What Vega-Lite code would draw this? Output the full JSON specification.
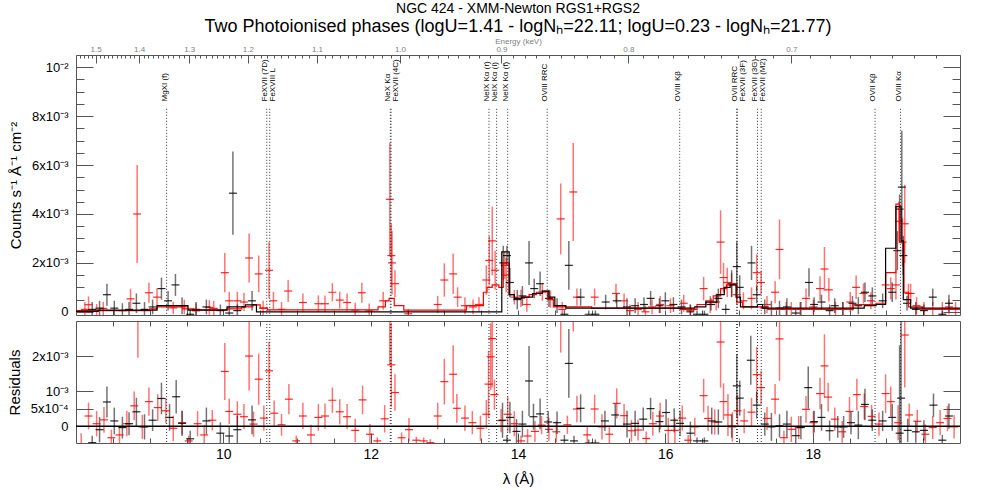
{
"$schema":"https://vega.github.io/schema/vega-lite/v6.json",
"background":"white",
"padding":{"left":6,"top":1,"right":8,"bottom":2},
"spacing":0,
"config":{
  "view":{"stroke":"#555","strokeWidth":1},
  "axis":{"grid":false,"domain":false,"labelFont":"Liberation Sans","titleFont":"Liberation Sans","labelColor":"#000","titleColor":"#000","titleFontWeight":"normal","tickColor":"#555","labelFlush":false,"labelOverlap":false},
  "text":{"font":"Liberation Sans"}
},
"datasets":{
"spec":[
{"d":"RGS2","lam":8.12,"f":0.10e-3,"e":0.30e-3},
{"d":"RGS2","lam":8.17,"f":0.29e-3,"e":0.34e-3},
{"d":"RGS2","lam":8.28,"f":0.07e-3,"e":0.25e-3},
{"d":"RGS2","lam":8.37,"f":0.14e-3,"e":0.27e-3},
{"d":"RGS2","lam":8.74,"f":0.53e-3,"e":0.41e-3},
{"d":"RGS2","lam":8.83,"f":4.00e-3,"e":2.00e-3},
{"d":"RGS2","lam":8.99,"f":0.78e-3,"e":0.41e-3},
{"d":"RGS2","lam":9.10,"f":0.60e-3,"e":0.35e-3},
{"d":"RGS2","lam":9.32,"f":0.16e-3,"e":0.25e-3},
{"d":"RGS2","lam":9.47,"f":0.20e-3,"e":0.30e-3},
{"d":"RGS2","lam":9.63,"f":0.04e-3,"e":0.30e-3},
{"d":"RGS2","lam":9.81,"f":0.18e-3,"e":0.30e-3},
{"d":"RGS2","lam":9.87,"f":0.14e-3,"e":0.30e-3},
{"d":"RGS2","lam":10.02,"f":1.60e-3,"e":0.80e-3},
{"d":"RGS2","lam":10.08,"f":0.45e-3,"e":0.37e-3},
{"d":"RGS2","lam":10.19,"f":0.45e-3,"e":0.37e-3},
{"d":"RGS2","lam":10.28,"f":0.40e-3,"e":0.37e-3},
{"d":"RGS2","lam":10.35,"f":2.20e-3,"e":1.00e-3},
{"d":"RGS2","lam":10.48,"f":1.55e-3,"e":0.75e-3},
{"d":"RGS2","lam":10.54,"f":0.15e-3,"e":0.30e-3},
{"d":"RGS2","lam":10.62,"f":1.70e-3,"e":1.15e-3},
{"d":"RGS2","lam":10.68,"f":0.45e-3,"e":0.37e-3},
{"d":"RGS2","lam":10.79,"f":0.10e-3,"e":0.30e-3},
{"d":"RGS2","lam":10.88,"f":0.85e-3,"e":0.45e-3},
{"d":"RGS2","lam":11.08,"f":0.38e-3,"e":0.37e-3},
{"d":"RGS2","lam":11.29,"f":0.33e-3,"e":0.34e-3},
{"d":"RGS2","lam":11.38,"f":0.33e-3,"e":0.34e-3},
{"d":"RGS2","lam":11.48,"f":0.80e-3,"e":0.37e-3},
{"d":"RGS2","lam":11.58,"f":0.48e-3,"e":0.34e-3},
{"d":"RGS2","lam":11.68,"f":0.38e-3,"e":0.37e-3},
{"d":"RGS2","lam":11.79,"f":0.07e-3,"e":0.30e-3},
{"d":"RGS2","lam":11.88,"f":0.78e-3,"e":0.41e-3},
{"d":"RGS2","lam":11.98,"f":0.04e-3,"e":0.30e-3},
{"d":"RGS2","lam":12.17,"f":0.45e-3,"e":0.37e-3},
{"d":"RGS2","lam":12.26,"f":4.60e-3,"e":2.30e-3},
{"d":"RGS2","lam":12.28,"f":2.30e-3,"e":1.30e-3},
{"d":"RGS2","lam":12.29,"f":2.00e-3,"e":1.30e-3},
{"d":"RGS2","lam":12.33,"f":1.15e-3,"e":0.55e-3},
{"d":"RGS2","lam":12.51,"f":-0.08e-3,"e":0.20e-3},
{"d":"RGS2","lam":12.91,"f":0.30e-3,"e":0.35e-3},
{"d":"RGS2","lam":13.00,"f":1.30e-3,"e":0.68e-3},
{"d":"RGS2","lam":13.12,"f":1.55e-3,"e":0.82e-3},
{"d":"RGS2","lam":13.18,"f":0.60e-3,"e":0.40e-3},
{"d":"RGS2","lam":13.28,"f":0.25e-3,"e":0.35e-3},
{"d":"RGS2","lam":13.39,"f":0.20e-3,"e":0.30e-3},
{"d":"RGS2","lam":13.47,"f":0.30e-3,"e":0.30e-3},
{"d":"RGS2","lam":13.57,"f":1.30e-3,"e":0.60e-3},
{"d":"RGS2","lam":13.61,"f":2.10e-3,"e":1.00e-3},
{"d":"RGS2","lam":13.65,"f":2.90e-3,"e":1.40e-3},
{"d":"RGS2","lam":13.69,"f":1.70e-3,"e":0.80e-3},
{"d":"RGS2","lam":13.82,"f":1.90e-3,"e":0.55e-3},
{"d":"RGS2","lam":13.84,"f":1.50e-3,"e":0.70e-3},
{"d":"RGS2","lam":13.95,"f":0.60e-3,"e":0.30e-3},
{"d":"RGS2","lam":14.04,"f":0.55e-3,"e":0.35e-3},
{"d":"RGS2","lam":14.12,"f":0.30e-3,"e":0.30e-3},
{"d":"RGS2","lam":14.33,"f":0.80e-3,"e":0.35e-3},
{"d":"RGS2","lam":14.44,"f":0.52e-3,"e":0.35e-3},
{"d":"RGS2","lam":14.58,"f":3.80e-3,"e":1.45e-3},
{"d":"RGS2","lam":14.60,"f":0.10e-3,"e":0.30e-3},
{"d":"RGS2","lam":14.75,"f":4.90e-3,"e":2.00e-3},
{"d":"RGS2","lam":14.80,"f":0.60e-3,"e":0.35e-3},
{"d":"RGS2","lam":15.04,"f":0.60e-3,"e":0.35e-3},
{"d":"RGS2","lam":15.33,"f":0.75e-3,"e":0.40e-3},
{"d":"RGS2","lam":15.44,"f":0.45e-3,"e":0.30e-3},
{"d":"RGS2","lam":15.52,"f":0.05e-3,"e":0.25e-3},
{"d":"RGS2","lam":15.63,"f":0.10e-3,"e":0.30e-3},
{"d":"RGS2","lam":15.73,"f":0.00e-3,"e":0.25e-3},
{"d":"RGS2","lam":15.82,"f":0.20e-3,"e":0.30e-3},
{"d":"RGS2","lam":15.93,"f":0.30e-3,"e":0.35e-3},
{"d":"RGS2","lam":16.07,"f":0.25e-3,"e":0.30e-3},
{"d":"RGS2","lam":16.25,"f":0.35e-3,"e":0.35e-3},
{"d":"RGS2","lam":16.34,"f":0.05e-3,"e":0.25e-3},
{"d":"RGS2","lam":16.52,"f":0.95e-3,"e":0.48e-3},
{"d":"RGS2","lam":16.61,"f":0.30e-3,"e":0.35e-3},
{"d":"RGS2","lam":16.69,"f":0.40e-3,"e":0.35e-3},
{"d":"RGS2","lam":16.75,"f":2.85e-3,"e":1.30e-3},
{"d":"RGS2","lam":16.79,"f":1.40e-3,"e":0.60e-3},
{"d":"RGS2","lam":16.84,"f":1.20e-3,"e":0.60e-3},
{"d":"RGS2","lam":16.90,"f":1.10e-3,"e":0.48e-3},
{"d":"RGS2","lam":16.97,"f":0.70e-3,"e":0.40e-3},
{"d":"RGS2","lam":17.06,"f":0.45e-3,"e":0.35e-3},
{"d":"RGS2","lam":17.17,"f":0.55e-3,"e":0.45e-3},
{"d":"RGS2","lam":17.24,"f":1.60e-3,"e":0.75e-3},
{"d":"RGS2","lam":17.30,"f":1.20e-3,"e":0.48e-3},
{"d":"RGS2","lam":17.38,"f":0.30e-3,"e":0.35e-3},
{"d":"RGS2","lam":17.49,"f":0.80e-3,"e":0.45e-3},
{"d":"RGS2","lam":17.55,"f":2.55e-3,"e":1.22e-3},
{"d":"RGS2","lam":17.64,"f":0.10e-3,"e":0.30e-3},
{"d":"RGS2","lam":17.71,"f":0.10e-3,"e":0.30e-3},
{"d":"RGS2","lam":17.83,"f":0.10e-3,"e":0.30e-3},
{"d":"RGS2","lam":17.91,"f":0.55e-3,"e":0.40e-3},
{"d":"RGS2","lam":18.01,"f":0.20e-3,"e":0.30e-3},
{"d":"RGS2","lam":18.10,"f":0.95e-3,"e":0.50e-3},
{"d":"RGS2","lam":18.16,"f":1.75e-3,"e":0.90e-3},
{"d":"RGS2","lam":18.22,"f":0.90e-3,"e":0.48e-3},
{"d":"RGS2","lam":18.31,"f":0.10e-3,"e":0.30e-3},
{"d":"RGS2","lam":18.41,"f":0.10e-3,"e":0.30e-3},
{"d":"RGS2","lam":18.51,"f":0.40e-3,"e":0.41e-3},
{"d":"RGS2","lam":18.59,"f":1.00e-3,"e":0.48e-3},
{"d":"RGS2","lam":18.69,"f":0.75e-3,"e":0.41e-3},
{"d":"RGS2","lam":18.79,"f":0.45e-3,"e":0.35e-3},
{"d":"RGS2","lam":18.99,"f":1.10e-3,"e":0.55e-3},
{"d":"RGS2","lam":19.06,"f":0.95e-3,"e":0.45e-3},
{"d":"RGS2","lam":19.13,"f":1.10e-3,"e":0.60e-3},
{"d":"RGS2","lam":19.17,"f":3.70e-3,"e":0.80e-3},
{"d":"RGS2","lam":19.22,"f":2.85e-3,"e":1.00e-3},
{"d":"RGS2","lam":19.25,"f":3.60e-3,"e":1.60e-3},
{"d":"RGS2","lam":19.30,"f":0.75e-3,"e":0.40e-3},
{"d":"RGS2","lam":19.33,"f":0.75e-3,"e":0.40e-3},
{"d":"RGS2","lam":19.41,"f":0.25e-3,"e":0.35e-3},
{"d":"RGS2","lam":19.51,"f":0.10e-3,"e":0.30e-3},
{"d":"RGS2","lam":19.63,"f":0.10e-3,"e":0.30e-3},
{"d":"RGS2","lam":19.76,"f":0.10e-3,"e":0.30e-3},
{"d":"RGS2","lam":19.85,"f":0.20e-3,"e":0.30e-3},
{"d":"RGS2","lam":19.94,"f":0.10e-3,"e":0.30e-3},
{"d":"RGS1","lam":8.22,"f":0.10e-3,"e":0.30e-3},
{"d":"RGS1","lam":8.32,"f":0.15e-3,"e":0.30e-3},
{"d":"RGS1","lam":8.42,"f":0.70e-3,"e":0.45e-3},
{"d":"RGS1","lam":8.52,"f":0.15e-3,"e":0.30e-3},
{"d":"RGS1","lam":8.63,"f":0.05e-3,"e":0.30e-3},
{"d":"RGS1","lam":8.72,"f":0.10e-3,"e":0.30e-3},
{"d":"RGS1","lam":8.82,"f":0.35e-3,"e":0.40e-3},
{"d":"RGS1","lam":8.93,"f":0.10e-3,"e":0.30e-3},
{"d":"RGS1","lam":9.04,"f":0.20e-3,"e":0.30e-3},
{"d":"RGS1","lam":9.16,"f":0.95e-3,"e":0.45e-3},
{"d":"RGS1","lam":9.25,"f":0.45e-3,"e":0.40e-3},
{"d":"RGS1","lam":9.35,"f":1.10e-3,"e":0.45e-3},
{"d":"RGS1","lam":9.44,"f":0.25e-3,"e":0.35e-3},
{"d":"RGS1","lam":9.55,"f":-0.10e-3,"e":0.20e-3},
{"d":"RGS1","lam":9.63,"f":0.10e-3,"e":0.30e-3},
{"d":"RGS1","lam":9.77,"f":0.20e-3,"e":0.30e-3},
{"d":"RGS1","lam":9.96,"f":0.05e-3,"e":0.25e-3},
{"d":"RGS1","lam":10.08,"f":-0.05e-3,"e":0.25e-3},
{"d":"RGS1","lam":10.13,"f":4.85e-3,"e":1.70e-3},
{"d":"RGS1","lam":10.19,"f":0.05e-3,"e":0.25e-3},
{"d":"RGS1","lam":10.39,"f":0.45e-3,"e":0.40e-3},
{"d":"RGS1","lam":13.80,"f":2.00e-3,"e":0.70e-3},
{"d":"RGS1","lam":13.85,"f":2.30e-3,"e":0.40e-3},
{"d":"RGS1","lam":13.89,"f":1.20e-3,"e":0.60e-3},
{"d":"RGS1","lam":13.99,"f":0.50e-3,"e":0.40e-3},
{"d":"RGS1","lam":14.06,"f":0.65e-3,"e":0.40e-3},
{"d":"RGS1","lam":14.15,"f":2.00e-3,"e":0.90e-3},
{"d":"RGS1","lam":14.22,"f":0.95e-3,"e":0.40e-3},
{"d":"RGS1","lam":14.30,"f":1.15e-3,"e":0.50e-3},
{"d":"RGS1","lam":14.42,"f":0.55e-3,"e":0.35e-3},
{"d":"RGS1","lam":14.53,"f":0.25e-3,"e":0.30e-3},
{"d":"RGS1","lam":14.63,"f":-0.10e-3,"e":0.20e-3},
{"d":"RGS1","lam":14.69,"f":1.90e-3,"e":1.00e-3},
{"d":"RGS1","lam":14.85,"f":0.60e-3,"e":0.35e-3},
{"d":"RGS1","lam":14.96,"f":-0.10e-3,"e":0.15e-3},
{"d":"RGS1","lam":15.05,"f":-0.10e-3,"e":0.15e-3},
{"d":"RGS1","lam":15.19,"f":0.40e-3,"e":0.30e-3},
{"d":"RGS1","lam":15.34,"f":0.45e-3,"e":0.30e-3},
{"d":"RGS1","lam":15.48,"f":0.20e-3,"e":0.35e-3},
{"d":"RGS1","lam":15.59,"f":0.25e-3,"e":0.30e-3},
{"d":"RGS1","lam":15.71,"f":0.30e-3,"e":0.30e-3},
{"d":"RGS1","lam":15.80,"f":0.55e-3,"e":0.30e-3},
{"d":"RGS1","lam":15.92,"f":0.25e-3,"e":0.30e-3},
{"d":"RGS1","lam":16.00,"f":0.45e-3,"e":0.35e-3},
{"d":"RGS1","lam":16.11,"f":0.30e-3,"e":0.30e-3},
{"d":"RGS1","lam":16.22,"f":0.20e-3,"e":0.30e-3},
{"d":"RGS1","lam":16.34,"f":0.00e-3,"e":0.30e-3},
{"d":"RGS1","lam":16.43,"f":-0.10e-3,"e":0.15e-3},
{"d":"RGS1","lam":16.53,"f":-0.10e-3,"e":0.15e-3},
{"d":"RGS1","lam":16.62,"f":0.30e-3,"e":0.25e-3},
{"d":"RGS1","lam":16.72,"f":0.55e-3,"e":0.40e-3},
{"d":"RGS1","lam":16.82,"f":0.10e-3,"e":0.20e-3},
{"d":"RGS1","lam":16.90,"f":1.15e-3,"e":0.55e-3},
{"d":"RGS1","lam":16.97,"f":1.85e-3,"e":1.00e-3},
{"d":"RGS1","lam":17.01,"f":1.00e-3,"e":0.50e-3},
{"d":"RGS1","lam":17.17,"f":2.00e-3,"e":0.70e-3},
{"d":"RGS1","lam":17.24,"f":0.70e-3,"e":0.35e-3},
{"d":"RGS1","lam":17.35,"f":0.20e-3,"e":0.30e-3},
{"d":"RGS1","lam":17.44,"f":0.10e-3,"e":0.35e-3},
{"d":"RGS1","lam":17.55,"f":0.15e-3,"e":0.30e-3},
{"d":"RGS1","lam":17.65,"f":0.20e-3,"e":0.35e-3},
{"d":"RGS1","lam":17.77,"f":-0.05e-3,"e":0.20e-3},
{"d":"RGS1","lam":17.84,"f":0.10e-3,"e":0.30e-3},
{"d":"RGS1","lam":17.95,"f":1.20e-3,"e":0.58e-3},
{"d":"RGS1","lam":18.02,"f":0.30e-3,"e":0.30e-3},
{"d":"RGS1","lam":18.12,"f":0.40e-3,"e":0.30e-3},
{"d":"RGS1","lam":18.23,"f":0.05e-3,"e":0.25e-3},
{"d":"RGS1","lam":18.30,"f":0.25e-3,"e":0.30e-3},
{"d":"RGS1","lam":18.41,"f":0.10e-3,"e":0.30e-3},
{"d":"RGS1","lam":18.54,"f":0.35e-3,"e":0.30e-3},
{"d":"RGS1","lam":18.62,"f":0.25e-3,"e":0.35e-3},
{"d":"RGS1","lam":18.71,"f":0.80e-3,"e":0.40e-3},
{"d":"RGS1","lam":18.81,"f":0.65e-3,"e":0.35e-3},
{"d":"RGS1","lam":18.95,"f":0.45e-3,"e":0.30e-3},
{"d":"RGS1","lam":19.08,"f":0.80e-3,"e":0.40e-3},
{"d":"RGS1","lam":19.15,"f":2.50e-3,"e":0.80e-3},
{"d":"RGS1","lam":19.18,"f":4.20e-3,"e":0.60e-3},
{"d":"RGS1","lam":19.21,"f":5.10e-3,"e":2.30e-3},
{"d":"RGS1","lam":19.23,"f":2.30e-3,"e":0.80e-3},
{"d":"RGS1","lam":19.28,"f":0.35e-3,"e":0.30e-3},
{"d":"RGS1","lam":19.40,"f":0.10e-3,"e":0.30e-3},
{"d":"RGS1","lam":19.51,"f":0.05e-3,"e":0.25e-3},
{"d":"RGS1","lam":19.63,"f":0.60e-3,"e":0.35e-3},
{"d":"RGS1","lam":19.76,"f":-0.10e-3,"e":0.15e-3},
{"d":"RGS1","lam":19.85,"f":0.35e-3,"e":0.35e-3}
],
"res":[
{"d":"RGS2","lam":8.07,"r":-0.50e-3,"e":0.30e-3},
{"d":"RGS2","lam":8.17,"r":0.29e-3,"e":0.38e-3},
{"d":"RGS2","lam":8.28,"r":0.07e-3,"e":0.36e-3},
{"d":"RGS2","lam":8.38,"r":0.18e-3,"e":0.37e-3},
{"d":"RGS2","lam":8.48,"r":-0.33e-3,"e":0.23e-3},
{"d":"RGS2","lam":8.59,"r":-0.25e-3,"e":0.26e-3},
{"d":"RGS2","lam":8.69,"r":0.07e-3,"e":0.36e-3},
{"d":"RGS2","lam":8.79,"r":0.58e-3,"e":0.41e-3},
{"d":"RGS2","lam":8.84,"r":3.95e-3,"e":2.00e-3},
{"d":"RGS2","lam":8.90,"r":-0.02e-3,"e":0.34e-3},
{"d":"RGS2","lam":8.99,"r":0.70e-3,"e":0.40e-3},
{"d":"RGS2","lam":9.11,"r":0.53e-3,"e":0.38e-3},
{"d":"RGS2","lam":9.22,"r":0.44e-3,"e":0.36e-3},
{"d":"RGS2","lam":9.32,"r":-0.06e-3,"e":0.36e-3},
{"d":"RGS2","lam":9.44,"r":0.10e-3,"e":0.33e-3},
{"d":"RGS2","lam":9.53,"r":-0.42e-3,"e":0.15e-3},
{"d":"RGS2","lam":9.65,"r":0.07e-3,"e":0.36e-3},
{"d":"RGS2","lam":9.74,"r":-0.25e-3,"e":0.29e-3},
{"d":"RGS2","lam":9.85,"r":0.17e-3,"e":0.29e-3},
{"d":"RGS2","lam":10.02,"r":1.56e-3,"e":0.81e-3},
{"d":"RGS2","lam":10.08,"r":0.42e-3,"e":0.36e-3},
{"d":"RGS2","lam":10.19,"r":0.34e-3,"e":0.37e-3},
{"d":"RGS2","lam":10.28,"r":0.27e-3,"e":0.36e-3},
{"d":"RGS2","lam":10.35,"r":2.00e-3,"e":0.98e-3},
{"d":"RGS2","lam":10.41,"r":0.06e-3,"e":0.36e-3},
{"d":"RGS2","lam":10.48,"r":1.34e-3,"e":0.73e-3},
{"d":"RGS2","lam":10.55,"r":0.23e-3,"e":0.36e-3},
{"d":"RGS2","lam":10.62,"r":1.58e-3,"e":0.83e-3},
{"d":"RGS2","lam":10.69,"r":0.37e-3,"e":0.36e-3},
{"d":"RGS2","lam":10.79,"r":0.04e-3,"e":0.31e-3},
{"d":"RGS2","lam":10.89,"r":0.77e-3,"e":0.43e-3},
{"d":"RGS2","lam":10.99,"r":-0.42e-3,"e":0.15e-3},
{"d":"RGS2","lam":11.08,"r":0.29e-3,"e":0.38e-3},
{"d":"RGS2","lam":11.19,"r":-0.25e-3,"e":0.29e-3},
{"d":"RGS2","lam":11.29,"r":0.25e-3,"e":0.38e-3},
{"d":"RGS2","lam":11.38,"r":0.29e-3,"e":0.36e-3},
{"d":"RGS2","lam":11.48,"r":0.74e-3,"e":0.36e-3},
{"d":"RGS2","lam":11.58,"r":0.41e-3,"e":0.36e-3},
{"d":"RGS2","lam":11.68,"r":0.27e-3,"e":0.36e-3},
{"d":"RGS2","lam":11.79,"r":-0.12e-3,"e":0.33e-3},
{"d":"RGS2","lam":11.89,"r":0.75e-3,"e":0.41e-3},
{"d":"RGS2","lam":11.99,"r":-0.23e-3,"e":0.29e-3},
{"d":"RGS2","lam":12.09,"r":-0.42e-3,"e":0.10e-3},
{"d":"RGS2","lam":12.19,"r":0.21e-3,"e":0.39e-3},
{"d":"RGS2","lam":12.26,"r":4.05e-3,"e":2.30e-3},
{"d":"RGS2","lam":12.28,"r":1.75e-3,"e":1.20e-3},
{"d":"RGS2","lam":12.33,"r":0.96e-3,"e":0.52e-3},
{"d":"RGS2","lam":12.42,"r":-0.33e-3,"e":0.15e-3},
{"d":"RGS2","lam":12.52,"r":-0.10e-3,"e":0.33e-3},
{"d":"RGS2","lam":12.62,"r":-0.40e-3,"e":0.10e-3},
{"d":"RGS2","lam":12.72,"r":-0.42e-3,"e":0.10e-3},
{"d":"RGS2","lam":12.81,"r":-0.47e-3,"e":0.10e-3},
{"d":"RGS2","lam":12.91,"r":0.29e-3,"e":0.38e-3},
{"d":"RGS2","lam":13.00,"r":1.27e-3,"e":0.65e-3},
{"d":"RGS2","lam":13.12,"r":1.48e-3,"e":0.83e-3},
{"d":"RGS2","lam":13.17,"r":0.51e-3,"e":0.41e-3},
{"d":"RGS2","lam":13.28,"r":0.23e-3,"e":0.36e-3},
{"d":"RGS2","lam":13.38,"r":0.10e-3,"e":0.33e-3},
{"d":"RGS2","lam":13.49,"r":-0.06e-3,"e":0.36e-3},
{"d":"RGS2","lam":13.57,"r":0.34e-3,"e":0.41e-3},
{"d":"RGS2","lam":13.60,"r":1.20e-3,"e":0.95e-3},
{"d":"RGS2","lam":13.63,"r":1.98e-3,"e":0.95e-3},
{"d":"RGS2","lam":13.65,"r":2.50e-3,"e":1.40e-3},
{"d":"RGS2","lam":13.68,"r":0.90e-3,"e":0.43e-3},
{"d":"RGS2","lam":13.77,"r":0.16e-3,"e":0.33e-3},
{"d":"RGS2","lam":13.86,"r":0.34e-3,"e":0.50e-3},
{"d":"RGS2","lam":13.95,"r":0.07e-3,"e":0.36e-3},
{"d":"RGS2","lam":14.04,"r":-0.42e-3,"e":0.15e-3},
{"d":"RGS2","lam":14.13,"r":-0.28e-3,"e":0.20e-3},
{"d":"RGS2","lam":14.23,"r":-0.15e-3,"e":0.30e-3},
{"d":"RGS2","lam":14.32,"r":0.03e-3,"e":0.26e-3},
{"d":"RGS2","lam":14.42,"r":-0.09e-3,"e":0.33e-3},
{"d":"RGS2","lam":14.52,"r":-0.16e-3,"e":0.30e-3},
{"d":"RGS2","lam":14.58,"r":3.55e-3,"e":1.45e-3},
{"d":"RGS2","lam":14.67,"r":0.04e-3,"e":0.26e-3},
{"d":"RGS2","lam":14.75,"r":4.70e-3,"e":2.00e-3},
{"d":"RGS2","lam":14.80,"r":0.49e-3,"e":0.38e-3},
{"d":"RGS2","lam":14.94,"r":-0.25e-3,"e":0.23e-3},
{"d":"RGS2","lam":15.04,"r":0.49e-3,"e":0.41e-3},
{"d":"RGS2","lam":15.14,"r":-0.02e-3,"e":0.36e-3},
{"d":"RGS2","lam":15.24,"r":-0.23e-3,"e":0.25e-3},
{"d":"RGS2","lam":15.34,"r":0.65e-3,"e":0.43e-3},
{"d":"RGS2","lam":15.44,"r":0.30e-3,"e":0.33e-3},
{"d":"RGS2","lam":15.54,"r":-0.13e-3,"e":0.31e-3},
{"d":"RGS2","lam":15.63,"r":-0.11e-3,"e":0.30e-3},
{"d":"RGS2","lam":15.74,"r":-0.35e-3,"e":0.20e-3},
{"d":"RGS2","lam":15.83,"r":0.07e-3,"e":0.34e-3},
{"d":"RGS2","lam":15.93,"r":0.29e-3,"e":0.38e-3},
{"d":"RGS2","lam":16.04,"r":-0.12e-3,"e":0.36e-3},
{"d":"RGS2","lam":16.13,"r":-0.12e-3,"e":0.36e-3},
{"d":"RGS2","lam":16.23,"r":0.23e-3,"e":0.36e-3},
{"d":"RGS2","lam":16.31,"r":-0.40e-3,"e":0.15e-3},
{"d":"RGS2","lam":16.40,"r":-0.02e-3,"e":0.26e-3},
{"d":"RGS2","lam":16.52,"r":0.87e-3,"e":0.48e-3},
{"d":"RGS2","lam":16.58,"r":0.22e-3,"e":0.36e-3},
{"d":"RGS2","lam":16.67,"r":0.12e-3,"e":0.36e-3},
{"d":"RGS2","lam":16.75,"r":2.40e-3,"e":1.30e-3},
{"d":"RGS2","lam":16.79,"r":0.70e-3,"e":0.52e-3},
{"d":"RGS2","lam":16.85,"r":0.32e-3,"e":0.60e-3},
{"d":"RGS2","lam":16.91,"r":-0.02e-3,"e":0.42e-3},
{"d":"RGS2","lam":16.98,"r":0.44e-3,"e":0.45e-3},
{"d":"RGS2","lam":17.07,"r":0.15e-3,"e":0.35e-3},
{"d":"RGS2","lam":17.17,"r":0.40e-3,"e":0.41e-3},
{"d":"RGS2","lam":17.24,"r":1.47e-3,"e":0.79e-3},
{"d":"RGS2","lam":17.30,"r":1.10e-3,"e":0.48e-3},
{"d":"RGS2","lam":17.38,"r":0.22e-3,"e":0.33e-3},
{"d":"RGS2","lam":17.49,"r":0.77e-3,"e":0.43e-3},
{"d":"RGS2","lam":17.55,"r":2.49e-3,"e":1.20e-3},
{"d":"RGS2","lam":17.61,"r":-0.33e-3,"e":0.20e-3},
{"d":"RGS2","lam":17.71,"r":-0.09e-3,"e":0.36e-3},
{"d":"RGS2","lam":17.81,"r":-0.04e-3,"e":0.33e-3},
{"d":"RGS2","lam":17.91,"r":0.48e-3,"e":0.38e-3},
{"d":"RGS2","lam":18.01,"r":0.10e-3,"e":0.33e-3},
{"d":"RGS2","lam":18.10,"r":0.93e-3,"e":0.45e-3},
{"d":"RGS2","lam":18.16,"r":1.72e-3,"e":0.90e-3},
{"d":"RGS2","lam":18.21,"r":0.83e-3,"e":0.41e-3},
{"d":"RGS2","lam":18.30,"r":0.20e-3,"e":0.33e-3},
{"d":"RGS2","lam":18.40,"r":-0.16e-3,"e":0.31e-3},
{"d":"RGS2","lam":18.50,"r":0.42e-3,"e":0.41e-3},
{"d":"RGS2","lam":18.60,"r":0.90e-3,"e":0.45e-3},
{"d":"RGS2","lam":18.70,"r":0.56e-3,"e":0.37e-3},
{"d":"RGS2","lam":18.80,"r":0.28e-3,"e":0.33e-3},
{"d":"RGS2","lam":18.90,"r":0.06e-3,"e":0.33e-3},
{"d":"RGS2","lam":18.99,"r":0.93e-3,"e":0.55e-3},
{"d":"RGS2","lam":19.06,"r":0.70e-3,"e":0.43e-3},
{"d":"RGS2","lam":19.16,"r":0.10e-3,"e":0.50e-3},
{"d":"RGS2","lam":19.25,"r":2.60e-3,"e":1.50e-3},
{"d":"RGS2","lam":19.31,"r":0.32e-3,"e":0.33e-3},
{"d":"RGS2","lam":19.42,"r":0.14e-3,"e":0.33e-3},
{"d":"RGS2","lam":19.53,"r":-0.23e-3,"e":0.28e-3},
{"d":"RGS2","lam":19.63,"r":-0.04e-3,"e":0.33e-3},
{"d":"RGS2","lam":19.73,"r":0.10e-3,"e":0.36e-3},
{"d":"RGS2","lam":19.83,"r":0.22e-3,"e":0.36e-3},
{"d":"RGS2","lam":19.92,"r":-0.02e-3,"e":0.33e-3},
{"d":"RGS1","lam":8.22,"r":-0.47e-3,"e":0.20e-3},
{"d":"RGS1","lam":8.32,"r":-0.10e-3,"e":0.36e-3},
{"d":"RGS1","lam":8.42,"r":0.69e-3,"e":0.44e-3},
{"d":"RGS1","lam":8.52,"r":0.15e-3,"e":0.38e-3},
{"d":"RGS1","lam":8.63,"r":-0.04e-3,"e":0.31e-3},
{"d":"RGS1","lam":8.72,"r":0.07e-3,"e":0.33e-3},
{"d":"RGS1","lam":8.82,"r":0.41e-3,"e":0.40e-3},
{"d":"RGS1","lam":8.93,"r":-0.02e-3,"e":0.36e-3},
{"d":"RGS1","lam":9.04,"r":0.17e-3,"e":0.31e-3},
{"d":"RGS1","lam":9.16,"r":0.79e-3,"e":0.45e-3},
{"d":"RGS1","lam":9.27,"r":0.25e-3,"e":0.38e-3},
{"d":"RGS1","lam":9.36,"r":0.84e-3,"e":0.48e-3},
{"d":"RGS1","lam":9.44,"r":0.08e-3,"e":0.36e-3},
{"d":"RGS1","lam":9.55,"r":-0.36e-3,"e":0.23e-3},
{"d":"RGS1","lam":9.77,"r":0.15e-3,"e":0.38e-3},
{"d":"RGS1","lam":9.96,"r":-0.20e-3,"e":0.31e-3},
{"d":"RGS1","lam":10.08,"r":-0.28e-3,"e":0.27e-3},
{"d":"RGS1","lam":10.19,"r":-0.10e-3,"e":0.40e-3},
{"d":"RGS1","lam":10.39,"r":0.18e-3,"e":0.41e-3},
{"d":"RGS1","lam":13.79,"r":0.17e-3,"e":0.50e-3},
{"d":"RGS1","lam":13.85,"r":-0.40e-3,"e":0.15e-3},
{"d":"RGS1","lam":13.89,"r":0.25e-3,"e":0.45e-3},
{"d":"RGS1","lam":13.98,"r":-0.15e-3,"e":0.35e-3},
{"d":"RGS1","lam":14.06,"r":0.06e-3,"e":0.38e-3},
{"d":"RGS1","lam":14.15,"r":1.29e-3,"e":1.00e-3},
{"d":"RGS1","lam":14.21,"r":0.27e-3,"e":0.37e-3},
{"d":"RGS1","lam":14.30,"r":0.35e-3,"e":0.44e-3},
{"d":"RGS1","lam":14.41,"r":0.12e-3,"e":0.31e-3},
{"d":"RGS1","lam":14.53,"r":0.10e-3,"e":0.32e-3},
{"d":"RGS1","lam":14.63,"r":-0.40e-3,"e":0.15e-3},
{"d":"RGS1","lam":14.69,"r":1.79e-3,"e":0.98e-3},
{"d":"RGS1","lam":14.76,"r":-0.42e-3,"e":0.15e-3},
{"d":"RGS1","lam":14.85,"r":0.51e-3,"e":0.40e-3},
{"d":"RGS1","lam":14.96,"r":-0.48e-3,"e":0.10e-3},
{"d":"RGS1","lam":15.05,"r":-0.48e-3,"e":0.10e-3},
{"d":"RGS1","lam":15.18,"r":0.15e-3,"e":0.29e-3},
{"d":"RGS1","lam":15.32,"r":0.32e-3,"e":0.31e-3},
{"d":"RGS1","lam":15.48,"r":0.06e-3,"e":0.38e-3},
{"d":"RGS1","lam":15.59,"r":0.08e-3,"e":0.36e-3},
{"d":"RGS1","lam":15.70,"r":0.20e-3,"e":0.33e-3},
{"d":"RGS1","lam":15.80,"r":0.50e-3,"e":0.31e-3},
{"d":"RGS1","lam":15.92,"r":0.13e-3,"e":0.31e-3},
{"d":"RGS1","lam":16.01,"r":0.39e-3,"e":0.38e-3},
{"d":"RGS1","lam":16.12,"r":0.17e-3,"e":0.34e-3},
{"d":"RGS1","lam":16.20,"r":0.08e-3,"e":0.36e-3},
{"d":"RGS1","lam":16.34,"r":-0.20e-3,"e":0.33e-3},
{"d":"RGS1","lam":16.43,"r":-0.42e-3,"e":0.10e-3},
{"d":"RGS1","lam":16.53,"r":-0.42e-3,"e":0.10e-3},
{"d":"RGS1","lam":16.63,"r":0.15e-3,"e":0.38e-3},
{"d":"RGS1","lam":16.72,"r":0.12e-3,"e":0.36e-3},
{"d":"RGS1","lam":16.90,"r":0.00e-3,"e":0.33e-3},
{"d":"RGS1","lam":16.97,"r":1.15e-3,"e":0.90e-3},
{"d":"RGS1","lam":17.01,"r":0.80e-3,"e":0.50e-3},
{"d":"RGS1","lam":17.16,"r":1.88e-3,"e":0.70e-3},
{"d":"RGS1","lam":17.24,"r":0.60e-3,"e":0.38e-3},
{"d":"RGS1","lam":17.35,"r":0.06e-3,"e":0.33e-3},
{"d":"RGS1","lam":17.44,"r":-0.02e-3,"e":0.40e-3},
{"d":"RGS1","lam":17.55,"r":0.01e-3,"e":0.33e-3},
{"d":"RGS1","lam":17.65,"r":0.06e-3,"e":0.38e-3},
{"d":"RGS1","lam":17.77,"r":-0.27e-3,"e":0.23e-3},
{"d":"RGS1","lam":17.84,"r":-0.04e-3,"e":0.33e-3},
{"d":"RGS1","lam":17.94,"r":1.10e-3,"e":0.60e-3},
{"d":"RGS1","lam":18.02,"r":0.13e-3,"e":0.31e-3},
{"d":"RGS1","lam":18.12,"r":0.25e-3,"e":0.38e-3},
{"d":"RGS1","lam":18.23,"r":-0.13e-3,"e":0.29e-3},
{"d":"RGS1","lam":18.34,"r":-0.02e-3,"e":0.31e-3},
{"d":"RGS1","lam":18.42,"r":-0.02e-3,"e":0.31e-3},
{"d":"RGS1","lam":18.52,"r":0.10e-3,"e":0.33e-3},
{"d":"RGS1","lam":18.62,"r":0.03e-3,"e":0.40e-3},
{"d":"RGS1","lam":18.71,"r":0.62e-3,"e":0.45e-3},
{"d":"RGS1","lam":18.81,"r":0.17e-3,"e":0.31e-3},
{"d":"RGS1","lam":18.95,"r":0.15e-3,"e":0.29e-3},
{"d":"RGS1","lam":19.08,"r":0.25e-3,"e":0.38e-3},
{"d":"RGS1","lam":19.18,"r":-0.20e-3,"e":2.50e-3},
{"d":"RGS1","lam":19.20,"r":0.80e-3,"e":2.30e-3},
{"d":"RGS1","lam":19.29,"r":-0.12e-3,"e":0.33e-3},
{"d":"RGS1","lam":19.40,"r":-0.16e-3,"e":0.31e-3},
{"d":"RGS1","lam":19.51,"r":-0.12e-3,"e":0.29e-3},
{"d":"RGS1","lam":19.64,"r":0.60e-3,"e":0.33e-3},
{"d":"RGS1","lam":19.76,"r":-0.40e-3,"e":0.15e-3},
{"d":"RGS1","lam":19.85,"r":0.29e-3,"e":0.36e-3}
],
"model":[
{"d":"RGS2","lam":8.00,"m":0.05e-3},{"d":"RGS2","lam":9.00,"m":0.12e-3},{"d":"RGS2","lam":9.10,"m":0.20e-3},{"d":"RGS2","lam":9.45,"m":0.12e-3},{"d":"RGS2","lam":9.60,"m":0.08e-3},{"d":"RGS2","lam":10.05,"m":0.12e-3},{"d":"RGS2","lam":10.25,"m":0.20e-3},{"d":"RGS2","lam":10.40,"m":0.28e-3},{"d":"RGS2","lam":10.50,"m":0.15e-3},{"d":"RGS2","lam":10.60,"m":0.08e-3},{"d":"RGS2","lam":12.10,"m":0.20e-3},{"d":"RGS2","lam":12.20,"m":0.45e-3},{"d":"RGS2","lam":12.25,"m":0.55e-3},{"d":"RGS2","lam":12.32,"m":0.25e-3},{"d":"RGS2","lam":12.45,"m":0.07e-3},{"d":"RGS2","lam":13.30,"m":0.25e-3},{"d":"RGS2","lam":13.53,"m":0.80e-3},{"d":"RGS2","lam":13.58,"m":1.00e-3},{"d":"RGS2","lam":13.65,"m":1.10e-3},{"d":"RGS2","lam":13.74,"m":1.00e-3},{"d":"RGS2","lam":13.80,"m":2.00e-3},{"d":"RGS2","lam":13.88,"m":0.70e-3},{"d":"RGS2","lam":13.95,"m":0.55e-3},{"d":"RGS2","lam":14.05,"m":0.60e-3},{"d":"RGS2","lam":14.15,"m":0.70e-3},{"d":"RGS2","lam":14.25,"m":0.80e-3},{"d":"RGS2","lam":14.33,"m":0.85e-3},{"d":"RGS2","lam":14.40,"m":0.50e-3},{"d":"RGS2","lam":14.48,"m":0.20e-3},{"d":"RGS2","lam":15.00,"m":0.15e-3},{"d":"RGS2","lam":16.20,"m":0.10e-3},{"d":"RGS2","lam":16.43,"m":0.30e-3},{"d":"RGS2","lam":16.55,"m":0.45e-3},{"d":"RGS2","lam":16.65,"m":0.65e-3},{"d":"RGS2","lam":16.75,"m":0.95e-3},{"d":"RGS2","lam":16.83,"m":1.10e-3},{"d":"RGS2","lam":16.90,"m":1.15e-3},{"d":"RGS2","lam":16.97,"m":0.40e-3},{"d":"RGS2","lam":17.05,"m":0.20e-3},{"d":"RGS2","lam":17.30,"m":0.15e-3},{"d":"RGS2","lam":17.40,"m":0.10e-3},{"d":"RGS2","lam":18.55,"m":0.30e-3},{"d":"RGS2","lam":18.86,"m":0.35e-3},{"d":"RGS2","lam":18.99,"m":1.60e-3},{"d":"RGS2","lam":19.13,"m":4.40e-3},{"d":"RGS2","lam":19.18,"m":2.85e-3},{"d":"RGS2","lam":19.24,"m":0.80e-3},{"d":"RGS2","lam":19.30,"m":0.20e-3},{"d":"RGS2","lam":19.49,"m":0.10e-3},{"d":"RGS2","lam":20.00,"m":0.10e-3},
{"d":"RGS1","lam":8.00,"m":0.02e-3},{"d":"RGS1","lam":8.30,"m":0.07e-3},{"d":"RGS1","lam":9.10,"m":0.25e-3},{"d":"RGS1","lam":9.52,"m":0.07e-3},{"d":"RGS1","lam":10.05,"m":0.20e-3},{"d":"RGS1","lam":10.30,"m":0.28e-3},{"d":"RGS1","lam":10.45,"m":0.00e-3},{"d":"RGS1","lam":13.78,"m":2.45e-3},{"d":"RGS1","lam":13.88,"m":0.70e-3},{"d":"RGS1","lam":13.95,"m":0.55e-3},{"d":"RGS1","lam":14.05,"m":0.60e-3},{"d":"RGS1","lam":14.20,"m":0.75e-3},{"d":"RGS1","lam":14.33,"m":0.85e-3},{"d":"RGS1","lam":14.42,"m":0.60e-3},{"d":"RGS1","lam":14.50,"m":0.25e-3},{"d":"RGS1","lam":14.65,"m":0.15e-3},{"d":"RGS1","lam":16.40,"m":0.20e-3},{"d":"RGS1","lam":16.55,"m":0.40e-3},{"d":"RGS1","lam":16.70,"m":0.70e-3},{"d":"RGS1","lam":16.80,"m":1.00e-3},{"d":"RGS1","lam":16.88,"m":1.10e-3},{"d":"RGS1","lam":16.96,"m":0.60e-3},{"d":"RGS1","lam":17.02,"m":0.20e-3},{"d":"RGS1","lam":17.25,"m":0.30e-3},{"d":"RGS1","lam":17.32,"m":0.15e-3},{"d":"RGS1","lam":18.70,"m":0.25e-3},{"d":"RGS1","lam":18.86,"m":0.30e-3},{"d":"RGS1","lam":18.99,"m":2.60e-3},{"d":"RGS1","lam":19.13,"m":4.30e-3},{"d":"RGS1","lam":19.20,"m":2.90e-3},{"d":"RGS1","lam":19.23,"m":0.50e-3},{"d":"RGS1","lam":19.33,"m":0.15e-3},{"d":"RGS1","lam":20.00,"m":0.15e-3}
],
"lines":[
{"ion":"MgXI (f)","lam":9.23},{"ion":"FeXVII (7D)","lam":10.59},{"ion":"FeXVIII L","lam":10.63},{"ion":"NeX Kα","lam":12.277},{"ion":"FeXVII (4C)","lam":12.267},{"ion":"NeIX Kα (r)","lam":13.606},{"ion":"NeIX Kα (i)","lam":13.71},{"ion":"NeIX Kα (f)","lam":13.86},{"ion":"OVIII RRC","lam":14.396},{"ion":"OVIII Kβ","lam":16.195},{"ion":"OVII RRC","lam":16.968},{"ion":"FeXVII (3F)","lam":16.978},{"ion":"FeXVII (3G)","lam":17.251},{"ion":"FeXVII (M2)","lam":17.302},{"ion":"OVII Kβ","lam":18.847},{"ion":"OVIII Kα","lam":19.193}
],
"labels":[
{"label":"MgXI (f)","lam":9.23},{"label":"FeXVII (7D)\nFeXVIII L","lam":10.59},{"label":"NeX Kα\nFeXVII (4C)","lam":12.267},{"label":"NeIX Kα (r)","lam":13.606},{"label":"NeIX Kα (i)","lam":13.71},{"label":"NeIX Kα (f)","lam":13.86},{"label":"OVIII RRC","lam":14.396},{"label":"OVIII Kβ","lam":16.195},{"label":"OVII RRC\nFeXVII (3F)","lam":16.968},{"label":"FeXVII (3G)\nFeXVII (M2)","lam":17.251},{"label":"OVII Kβ","lam":18.847},{"label":"OVIII Kα","lam":19.193}
]
},
"vconcat":[
{
 "width":884,"height":260,
 "title":{"text":"NGC 424 - XMM-Newton RGS1+RGS2","subtitle":"Two Photoionised phases (logU=1.41 - logNₕ=22.11; logU=0.23 - logNₕ=21.77)","anchor":"middle","font":"Liberation Sans","fontSize":14,"fontWeight":"normal","color":"#000","subtitleFont":"Liberation Sans","subtitleFontSize":18,"subtitleColor":"#000","subtitlePadding":2,"offset":1},
 "resolve":{"axis":{"x":"independent","y":"independent"}},
 "layer":[
  {"data":{"name":"spec"},
   "mark":{"type":"errorbar","clip":true,"thickness":1.5,"opacity":0.55},
   "encoding":{
    "x":{"field":"lam","type":"quantitative","scale":{"domain":[8,20],"nice":false,"zero":false},
      "axis":{"orient":"top","values":[8.2653,8.8557,9.5369,10.3317,11.2709,12.398,13.7756,15.4975,17.7114],"labelExpr":"format(12.398/datum.value,'.1f')","tickSize":-8,"labelFontSize":8,"labelColor":"#808080","labelPadding":10,"title":"Energy (keV)","titleFontSize":8,"titleColor":"#808080","titlePadding":0}},
    "y":{"field":"f","type":"quantitative","scale":{"domain":[-0.00013,0.0105],"nice":false,"zero":false},
      "axis":{"orient":"left","values":[0,0.002,0.004,0.006,0.008,0.01],"labelExpr":"datum.value == 0 ? '0' : datum.value > 0.0099 ? '10⁻²' : format(datum.value*1000,'d') + 'x10⁻³'","tickSize":-17,"labelFontSize":13,"labelPadding":25,"title":"Counts s⁻¹ Å⁻¹ cm⁻²","titleFontSize":15,"titlePadding":8}},
    "yError":{"field":"e"},
    "color":{"field":"d","type":"nominal","scale":{"domain":["RGS1","RGS2"],"range":["#000000","#ff0000"]},"legend":null}
   }},
  {"data":{"name":"spec"},
   "mark":{"type":"tick","orient":"horizontal","size":8,"thickness":1.2,"clip":true,"opacity":0.85},
   "encoding":{
    "x":{"field":"lam","type":"quantitative","scale":{"domain":[8,20],"nice":false,"zero":false},
      "axis":{"orient":"top","values":[8.0506,8.1033,8.1566,8.2106,8.2653,8.3208,8.377,8.434,8.4918,8.5503,8.6097,8.6699,8.731,8.7929,8.8557,8.9194,8.9841,9.0496,9.1162,9.1837,9.2522,9.3218,9.3924,9.4641,9.5369,9.6109,9.6859,9.7622,9.8397,9.9184,9.9984,10.0797,10.1623,10.2463,10.3317,10.4185,10.5068,10.5966,10.6879,10.7809,10.8754,10.9717,11.0696,11.1694,11.2709,11.3743,11.4796,11.5869,11.6962,11.8076,11.9212,12.0369,12.1549,12.2752,12.398,12.5232,12.651,12.7814,12.9146,13.0505,13.1894,13.3312,13.4761,13.6242,13.7756,13.9303,14.0886,14.2506,14.4163,14.5859,14.7595,14.9373,15.1195,15.3062,15.4975,15.6937,15.8949,16.1013,16.3132,16.5307,16.7541,16.9836,17.2194,17.462,17.7114,17.9681,18.2324,18.5045,18.7848,19.0738,19.3719,19.6794,19.9968],"labels":false,"tickSize":-3,"title":null}},
    "y":{"field":"f","type":"quantitative","scale":{"domain":[-0.00013,0.0105],"nice":false,"zero":false},
      "axis":{"orient":"left","values":[0.0005,0.001,0.0015,0.002,0.0025,0.003,0.0035,0.004,0.0045,0.005,0.0055,0.006,0.0065,0.007,0.0075,0.008,0.0085,0.009,0.0095,0.01],"labels":false,"tickSize":-8,"title":null}},
    "color":{"field":"d","type":"nominal","scale":{"domain":["RGS1","RGS2"],"range":["#000000","#ff0000"]},"legend":null}
   }},
  {"data":{"name":"model"},
   "mark":{"type":"line","interpolate":"step-after","clip":true,"strokeWidth":1.2},
   "encoding":{
    "x":{"field":"lam","type":"quantitative","scale":{"domain":[8,20],"nice":false,"zero":false},
      "axis":{"orient":"bottom","values":[8.5,9,9.5,10,10.5,11,11.5,12,12.5,13,13.5,14,14.5,15,15.5,16,16.5,17,17.5,18,18.5,19,19.5],"labels":false,"tickSize":-5,"title":null}},
    "y":{"field":"m","type":"quantitative","scale":{"domain":[-0.00013,0.0105],"nice":false,"zero":false},
      "axis":{"orient":"right","values":[0,0.002,0.004,0.006,0.008,0.01],"labels":false,"tickSize":-17,"title":null}},
    "color":{"field":"d","type":"nominal","scale":{"domain":["RGS1","RGS2"],"range":["#000000","#ff0000"]},"legend":null}
   }},
  {"data":{"name":"lines"},
   "mark":{"type":"rule","strokeDash":[1,2],"color":"#333","strokeWidth":1},
   "encoding":{
    "x":{"field":"lam","type":"quantitative","scale":{"domain":[8,20],"nice":false,"zero":false},"axis":null},
    "y":{"datum":0.0083,"type":"quantitative","scale":{"domain":[-0.00013,0.0105],"nice":false,"zero":false},
      "axis":{"orient":"right","values":[0.0005,0.001,0.0015,0.002,0.0025,0.003,0.0035,0.004,0.0045,0.005,0.0055,0.006,0.0065,0.007,0.0075,0.008,0.0085,0.009,0.0095,0.01],"labels":false,"tickSize":-8,"title":null}},
    "y2":{"datum":-0.00013}
   }},
  {"data":{"name":"labels"},
   "mark":{"type":"text","angle":270,"align":"left","baseline":"alphabetic","fontSize":8,"lineBreak":"\n","lineHeight":8,"color":"#000","font":"Liberation Sans"},
   "encoding":{
    "x":{"field":"lam","type":"quantitative","scale":{"domain":[8,20],"nice":false,"zero":false},"axis":null},
    "y":{"datum":0.0086,"type":"quantitative","scale":{"domain":[-0.00013,0.0105],"nice":false,"zero":false},"axis":null},
    "text":{"field":"label"}
   }}
 ]
},
{
 "width":884,"height":122,
 "resolve":{"axis":{"x":"independent","y":"independent"}},
 "layer":[
  {"data":{"name":"res"},
   "mark":{"type":"errorbar","clip":true,"thickness":1.5,"opacity":0.55},
   "encoding":{
    "x":{"field":"lam","type":"quantitative","scale":{"domain":[8,20],"nice":false,"zero":false},
      "axis":{"orient":"bottom","values":[10,12,14,16,18],"tickSize":-10,"labelFontSize":14,"labelPadding":14,"title":"λ (Å)","titleFontSize":15,"titlePadding":10}},
    "y":{"field":"r","type":"quantitative","scale":{"domain":[-0.00048,0.003],"nice":false,"zero":false},
      "axis":{"orient":"left","values":[0,0.0005,0.001,0.002],"labelExpr":"datum.value == 0 ? '0' : datum.value < 0.0007 ? '5x10⁻⁴' : datum.value < 0.0015 ? '10⁻³' : '2x10⁻³'","tickSize":-17,"labelFontSize":13,"labelPadding":25,"title":"Residuals","titleFontSize":15,"titlePadding":8}},
    "yError":{"field":"e"},
    "color":{"field":"d","type":"nominal","scale":{"domain":["RGS1","RGS2"],"range":["#000000","#ff0000"]},"legend":null}
   }},
  {"data":{"name":"res"},
   "mark":{"type":"tick","orient":"horizontal","size":8,"thickness":1.2,"clip":true,"opacity":0.85},
   "encoding":{
    "x":{"field":"lam","type":"quantitative","scale":{"domain":[8,20],"nice":false,"zero":false},
      "axis":{"orient":"bottom","values":[8.5,9,9.5,10,10.5,11,11.5,12,12.5,13,13.5,14,14.5,15,15.5,16,16.5,17,17.5,18,18.5,19,19.5],"labels":false,"tickSize":-5,"title":null}},
    "y":{"field":"r","type":"quantitative","scale":{"domain":[-0.00048,0.003],"nice":false,"zero":false},
      "axis":{"orient":"right","values":[0.0005,0.001,0.002],"labels":false,"tickSize":-17,"title":null}},
    "color":{"field":"d","type":"nominal","scale":{"domain":["RGS1","RGS2"],"range":["#000000","#ff0000"]},"legend":null}
   }},
  {"data":{"name":"lines"},
   "mark":{"type":"rule","strokeDash":[1,2],"color":"#333","strokeWidth":1},
   "encoding":{
    "x":{"field":"lam","type":"quantitative","scale":{"domain":[8,20],"nice":false,"zero":false},
      "axis":{"orient":"top","values":[8.5,9,9.5,10,10.5,11,11.5,12,12.5,13,13.5,14,14.5,15,15.5,16,16.5,17,17.5,18,18.5,19,19.5],"labels":false,"tickSize":-5,"title":null}},
    "y":{"datum":0.003,"type":"quantitative","scale":{"domain":[-0.00048,0.003],"nice":false,"zero":false},"axis":null},
    "y2":{"datum":-0.00048}
   }},
  {"data":{"values":[{"level":0}]},
   "mark":{"type":"rule","color":"#000","strokeWidth":1.5},
   "encoding":{
    "y":{"field":"level","type":"quantitative","scale":{"domain":[-0.00048,0.003],"nice":false,"zero":false},"axis":null}
   }}
 ]
}
]
}
